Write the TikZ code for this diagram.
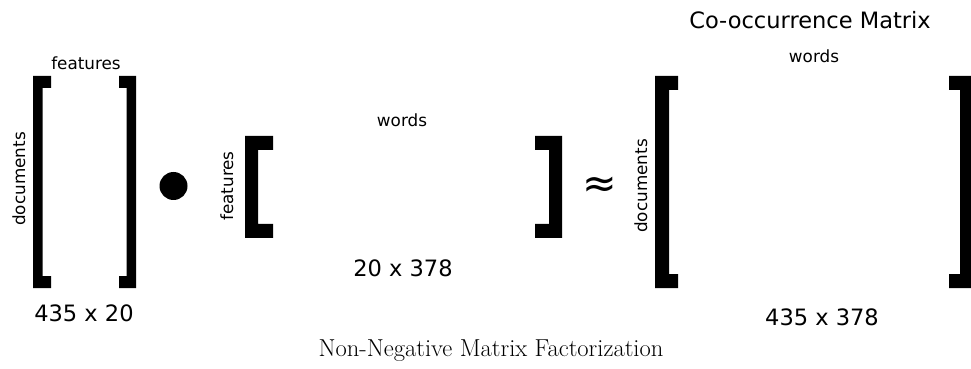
\documentclass[tikz,border=0pt]{standalone}
\usepackage{fontspec}
\newfontfamily\dejavu{DejaVu Sans}

\begin{document}
\begin{tikzpicture}[
  x=0.75pt, y=0.75pt,
  lbl/.style={
    font=\dejavu\fontsize{12.6}{15}\selectfont,
    inner sep=0pt, anchor=base
  },
  dimlbl/.style={
    font=\dejavu\fontsize{16.9}{20}\selectfont,
    inner sep=0pt, anchor=base
  },
  side/.style={lbl, rotate=90},
  brk/.style={fill=black},
]
\useasboundingbox (0,0) rectangle (971,368);

%% Matrix 1 — documents x features
\fill[brk] (33,292) -- (51,292) -- (51,280) -- (42.5,280) -- (42.5,92)
  -- (51,92) -- (51,80) -- (33,80) -- cycle;
\fill[brk] (136,292) -- (119,292) -- (119,280) -- (126.5,280) -- (126.5,92)
  -- (119,92) -- (119,80) -- (136,80) -- cycle;
\node[lbl]    (feat1) at (86,298) {features};
\node[side]   (doc1)  at (25,189) {documents};
\node[dimlbl] (size1) at (84,46)  {435 x 20};

%% product dot
\node[circle, fill=black, inner sep=0pt, minimum size=21] (dot) at (173.5,182) {};

%% Matrix 2 — features x words
\fill[brk] (245,232) -- (273,232) -- (273,218) -- (258,218) -- (258,144)
  -- (273,144) -- (273,130) -- (245,130) -- cycle;
\fill[brk] (562,232) -- (535,232) -- (535,218) -- (549,218) -- (549,144)
  -- (535,144) -- (535,130) -- (562,130) -- cycle;
\node[lbl]    (words2) at (402,241) {words};
\node[side]   (feat2)  at (233,182) {features};
\node[dimlbl] (size2)  at (403,91)  {20 x 378};

%% approx sign
\node[inner sep=0pt, anchor=base, font=\dejavu\fontsize{31}{34}\selectfont]
  (approx) at (600,170) {≈};

%% Matrix 3 — co-occurrence
\fill[brk] (655,292) -- (678,292) -- (678,278) -- (669,278) -- (669,94)
  -- (678,94) -- (678,80) -- (655,80) -- cycle;
\fill[brk] (971,292) -- (949,292) -- (949,278) -- (960,278) -- (960,94)
  -- (949,94) -- (949,80) -- (971,80) -- cycle;
\node[dimlbl] (title3) at (810,339) {Co-occurrence Matrix};
\node[lbl]    (words3) at (814,305) {words};
\node[side]   (doc3)   at (647,182) {documents};
\node[dimlbl] (size3)  at (822,43)  {435 x 378};

%% caption
\node[inner sep=0pt, anchor=base, font=\fontsize{18.4}{22}\selectfont]
  (caption) at (491,12) {Non-Negative Matrix Factorization};
\end{tikzpicture}
\end{document}
